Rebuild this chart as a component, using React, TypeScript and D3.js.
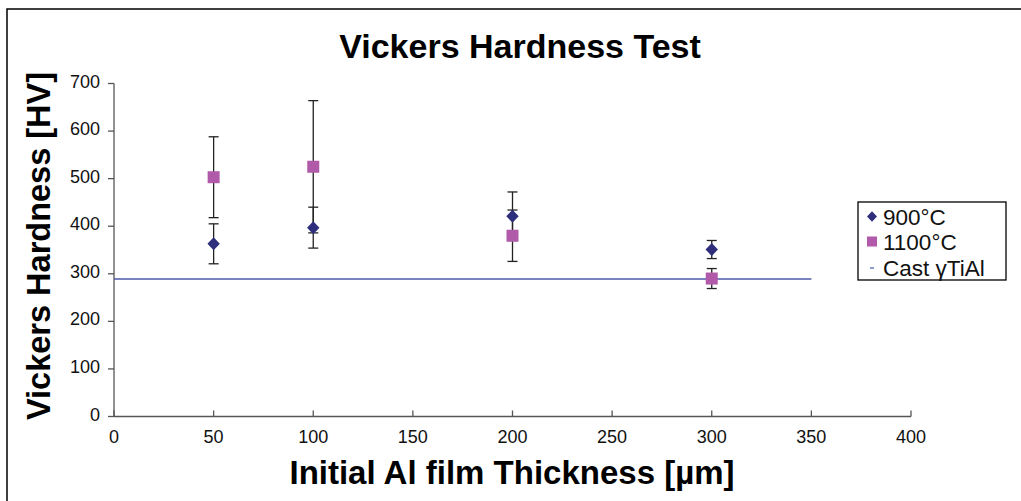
import React from "react";
import * as d3 from "d3";

const thickness = [50, 100, 200, 300];
const hv900 = [363, 397, 421, 351];
const err900 = [42, 43, 51, 19];
const hv1100 = [503, 525, 380, 290];
const err1100 = [85, 139, 54, 21];
const castValue = 289;
const castRange = [0, 350];
const xTicks = [0, 50, 100, 150, 200, 250, 300, 350, 400];
const yTicks = [0, 100, 200, 300, 400, 500, 600, 700];
const legendLabels = ["900°C", "1100°C", "Cast γTiAl"];

const W = 1021;
const H = 501;
const FONT = "'Liberation Sans', Arial, sans-serif";
const C900 = "#2e2e7c";
const C1100 = "#b15aa9";
const CLINE = "#4a58a8";
const AXIS = "#555";

const diamondPath = (r: number) => {
  const p = d3.path();
  p.moveTo(0, -r * 1.05);
  p.lineTo(r, 0);
  p.lineTo(0, r * 1.05);
  p.lineTo(-r, 0);
  p.closePath();
  return p.toString();
};

export default function App() {
  const x = d3.scaleLinear().domain([0, 400]).range([114, 911]);
  const y = d3.scaleLinear().domain([0, 700]).range([416.5, 83.5]);
  const diamond = diamondPath(6.2);
  const legDiamond = diamondPath(5);

  const errBar = (cx: number, v: number, e: number, key: string) => {
    const top = y(v + e);
    const bot = y(v - e);
    return (
      <g key={key} stroke="#222" strokeWidth={1.3}>
        <line x1={cx} x2={cx} y1={top} y2={bot} />
        <line x1={cx - 5} x2={cx + 5} y1={top} y2={top} />
        <line x1={cx - 5} x2={cx + 5} y1={bot} y2={bot} />
      </g>
    );
  };

  return (
    <div style={{ position: "fixed", left: 0, top: 0 }}>
      <svg width={W} height={H} style={{ display: "block", background: "#fff" }}>
        <rect x={7} y={9} width={W + 20} height={H + 20} fill="#fff" stroke="#000" strokeWidth={1.5} />
        <text x={520} y={58} textAnchor="middle" fontFamily={FONT} fontWeight="bold" fontSize={34}>
          Vickers Hardness Test
        </text>
        {/* axes */}
        <line x1={x(0)} x2={x(400)} y1={y(0)} y2={y(0)} stroke={AXIS} strokeWidth={1.3} />
        <line x1={x(0)} x2={x(0)} y1={y(0)} y2={y(700)} stroke={AXIS} strokeWidth={1.3} />
        {xTicks.map((t) => (
          <g key={"xt" + t}>
            <line x1={x(t)} x2={x(t)} y1={y(0)} y2={y(0) - 6} stroke={AXIS} strokeWidth={1.3} />
            <text x={x(t)} y={443} textAnchor="middle" fontFamily={FONT} fontSize={18} fill="#111">
              {t}
            </text>
          </g>
        ))}
        {yTicks.map((t) => (
          <g key={"yt" + t}>
            <line x1={x(0) - 6} x2={x(0)} y1={y(t)} y2={y(t)} stroke={AXIS} strokeWidth={1.3} />
            <text x={100} y={y(t) + 4} textAnchor="end" fontFamily={FONT} fontSize={18} fill="#111">
              {t}
            </text>
          </g>
        ))}
        <text x={512} y={484} textAnchor="middle" fontFamily={FONT} fontWeight="bold" fontSize={33}>
          Initial Al film Thickness [µm]
        </text>
        <text
          transform={`translate(50,246) rotate(-90)`}
          textAnchor="middle"
          fontFamily={FONT}
          fontWeight="bold"
          fontSize={32.5}
        >
          Vickers Hardness [HV]
        </text>
        {/* cast line */}
        <line
          x1={x(castRange[0])}
          x2={x(castRange[1])}
          y1={y(castValue)}
          y2={y(castValue)}
          stroke={CLINE}
          strokeWidth={1.5}
        />
        {/* error bars */}
        {thickness.map((t, i) => errBar(x(t), hv1100[i], err1100[i], "e11" + i))}
        {thickness.map((t, i) => errBar(x(t), hv900[i], err900[i], "e9" + i))}
        {/* markers */}
        {thickness.map((t, i) => (
          <path key={"d" + i} d={diamond} transform={`translate(${x(t)},${y(hv900[i])})`} fill={C900} />
        ))}
        {thickness.map((t, i) => (
          <rect key={"s" + i} x={x(t) - 6} y={y(hv1100[i]) - 6} width={12} height={12} fill={C1100} />
        ))}
        {/* legend */}
        <rect x={858} y={202} width={148} height={78} fill="#fff" stroke="#000" strokeWidth={1.3} />
        <path d={legDiamond} transform="translate(872,216.5)" fill={C900} />
        <rect x={867} y={236.5} width={10} height={10} fill={C1100} />
        <line x1={870} x2={874} y1={268} y2={268} stroke={CLINE} strokeWidth={1.2} />
        {legendLabels.map((l, i) => (
          <text key={l} x={883} y={224.5 + i * 25.5} fontFamily={FONT} fontSize={22.5} fill="#111">
            {l}
          </text>
        ))}
      </svg>
    </div>
  );
}
